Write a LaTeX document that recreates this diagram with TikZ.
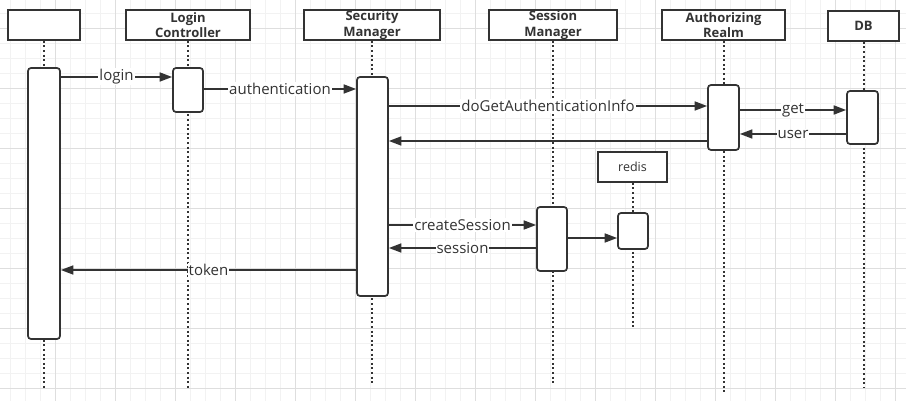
\documentclass[tikz,border=0pt]{standalone}
\usepackage{fontspec}
\setmainfont{Open Sans}
\usetikzlibrary{arrows.meta}
\definecolor{ink}{HTML}{333333}
\tikzset{
	head/.style={draw=ink, line width=1.7pt, fill=white, minimum height=30pt, inner sep=0pt, align=center, text=ink, font=\fontsize{13}{15.5}\selectfont\bfseries},
	act/.style={draw=ink, line width=1.7pt, fill=white, rounded corners=3pt, minimum width=30pt, inner sep=0pt},
	life/.style={draw=ink, line width=2pt, dash pattern=on 2pt off 2.6pt},
	msg/.style={draw=ink, line width=1.7pt, -{Triangle[length=12.5pt,width=9pt]}},
	lbl/.style={fill=white, inner sep=1pt, text=ink, font=\fontsize{15}{18}\selectfont},
}
\begin{document}
\begin{tikzpicture}[x=1pt,y=-1pt]
	\useasboundingbox[fill=white] (0,0) rectangle (906,401);
	\foreach \x in {10,25,...,906} \draw[black!5, line width=0.6pt] (\x,0) -- (\x,401);
	\foreach \y in {13,28,...,401} \draw[black!5, line width=0.6pt] (0,\y) -- (906,\y);
	\foreach \x in {55,115,...,906} \draw[black!13, line width=0.8pt] (\x,0) -- (\x,401);
	\foreach \y in {28,88,...,401} \draw[black!13, line width=0.8pt] (0,\y) -- (906,\y);

	\node (H0) at ( 44, 25)	[head, minimum width=72pt]	{};
	\node (H1) at (188, 25)	[head, minimum width=124pt]	{Login\\Controller};
	\node (H2) at (372, 25)	[head, minimum width=136pt]	{Security\\Manager};
	\node (H3) at (553, 25)	[head, minimum width=128pt]	{Session\\Manager};
	\node (H4) at (723.5, 25)	[head, minimum width=123pt]	{Authorizing\\Realm};
	\node (H5) at (863.5, 26)	[head, minimum width=71pt]	{DB};
	\node (H6) at (632.5, 167)	[head, minimum width=69pt, font=\fontsize{12.5}{15}\selectfont]	{redis};

	\coordinate (E0) at ( 44, 388);
	\coordinate (E1) at (188, 388);
	\coordinate (E2) at (372, 385);
	\coordinate (E3) at (553, 385);
	\coordinate (E4) at (723.5, 392);
	\coordinate (E5) at (863.5, 388);
	\coordinate (E6) at (632.5, 328);
	\draw[life] (H0) -- (E0);
	\draw[life] (H1) -- (E1);
	\draw[life] (H2) -- (E2);
	\draw[life] (H3) -- (E3);
	\draw[life] (H4) -- (E4);
	\draw[life] (H5) -- (E5);
	\draw[life] (H6) -- (E6);

	\node (A0) at ( 44, 203.5)	[act, minimum width=32pt, minimum height=271pt]	{};
	\node (A1) at (188, 90)	[act, minimum height=44pt]	{};
	\node (A2) at (372.5, 186.5)	[act, minimum width=31pt, minimum height=219pt]	{};
	\node (A3) at (723.5, 117.5)	[act, minimum width=31pt, minimum height=65pt]	{};
	\node (A4) at (862.5, 117.5)	[act, minimum width=31pt, minimum height=53pt]	{};
	\node (A5) at (552, 239)	[act, minimum height=64pt]	{};
	\node (A6) at (633, 231)	[act, minimum height=36pt]	{};

	\draw[msg] (A0.east |- 0,77) -- (A1.west |- 0,77) node[lbl, midway] {login};
	\draw[msg] (A1.east |- 0,89) -- (A2.west |- 0,89) node[lbl, midway] {authentication};
	\draw[msg] (A2.east |- 0,106) -- (A3.west |- 0,106) node[lbl, midway] {doGetAuthenticationInfo};
	\draw[msg] (A3.east |- 0,110) -- (A4.west |- 0,110) node[lbl, midway] {get};
	\draw[msg] (A4.west |- 0,134) -- (A3.east |- 0,134) node[lbl, midway] {user};
	\draw[msg] (A3.west |- 0,141) -- (A2.east |- 0,141);
	\draw[msg] (A2.east |- 0,225) -- (A5.west |- 0,225) node[lbl, midway] {createSession};
	\draw[msg] (A5.west |- 0,248) -- (A2.east |- 0,248) node[lbl, midway] {session};
	\draw[msg] (A5.east |- 0,238) -- (A6.west |- 0,238);
	\draw[msg] (A2.west |- 0,270) -- (A0.east |- 0,270) node[lbl, midway] {token};
\end{tikzpicture}
\end{document}
